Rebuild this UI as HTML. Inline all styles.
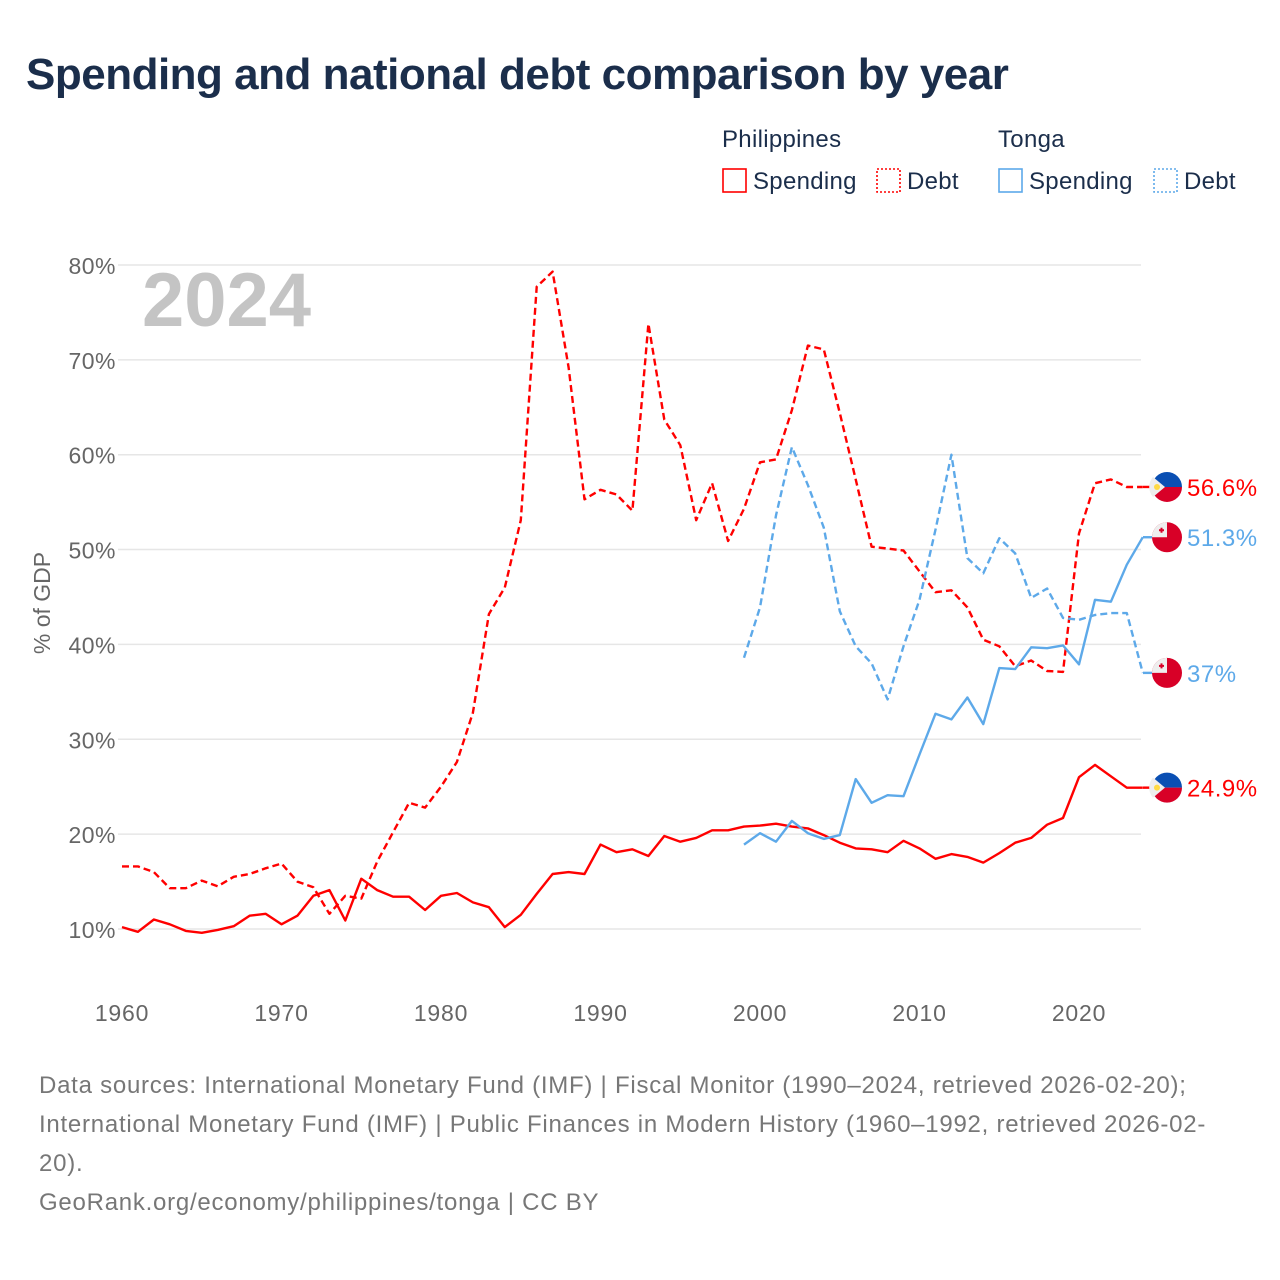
<!DOCTYPE html>
<html><head><meta charset="utf-8">
<style>
body{margin:0;width:1280px;height:1280px;background:#fff;font-family:"Liberation Sans",sans-serif;overflow:hidden}
.t{position:absolute}
</style></head><body>
<div class="t" style="left:26px;top:50px;font-size:44px;font-weight:bold;color:#1b2e4b;letter-spacing:-0.5px">Spending and national debt comparison by year</div>
<svg id="c" width="1280" height="1280" style="position:absolute;left:0;top:0"></svg>
<div class="t" style="left:39px;top:1066px;width:1195px;font-size:24px;line-height:39px;color:#777;letter-spacing:0.75px">Data sources: International Monetary Fund (IMF) | Fiscal Monitor (1990–2024, retrieved 2026-02-20); International Monetary Fund (IMF) | Public Finances in Modern History (1960–1992, retrieved 2026-02-20).<br>GeoRank.org/economy/philippines/tonga | CC BY</div>
<script>
const phSpend=[10.2,9.7,11.0,10.5,9.8,9.6,9.9,10.3,11.4,11.6,10.5,11.4,13.5,14.1,10.9,15.3,14.1,13.4,13.4,12.0,13.5,13.8,12.8,12.3,10.2,11.5,13.7,15.8,16.0,15.8,18.9,18.1,18.4,17.7,19.8,19.2,19.6,20.4,20.4,20.8,20.9,21.1,20.8,20.6,19.9,19.1,18.5,18.4,18.1,19.3,18.5,17.4,17.9,17.6,17.0,18.0,19.1,19.6,21.0,21.7,26.0,27.3,26.1,24.9,24.9];
const phDebt=[16.6,16.6,16.0,14.3,14.3,15.1,14.5,15.5,15.8,16.4,16.9,15.0,14.4,11.6,13.5,13.2,17.1,20.2,23.3,22.8,25.0,27.6,32.8,43.2,46.0,53.1,77.7,79.3,69.2,55.3,56.3,55.8,54.1,73.8,63.7,61.0,53.1,57.0,50.9,54.3,59.2,59.5,64.7,71.5,71.1,64.4,57.4,50.3,50.1,49.9,47.7,45.5,45.7,43.9,40.5,39.8,37.7,38.3,37.2,37.1,51.7,57.0,57.4,56.6,56.6];
const toStartYear=1999;
const toSpend=[18.9,20.1,19.2,21.4,20.1,19.5,19.9,25.8,23.3,24.1,24.0,28.4,32.7,32.1,34.4,31.6,37.5,37.4,39.7,39.6,39.9,37.9,44.7,44.5,48.4,51.3];
const toDebt=[38.6,43.9,53.6,60.8,56.8,52.3,43.5,39.8,38.0,34.2,39.8,44.7,52.1,60.0,49.1,47.5,51.2,49.6,44.9,45.9,42.8,42.6,43.1,43.3,43.3,37.0];
const yTicks=[10,20,30,40,50,60,70,80];
const xTicks=[1960,1970,1980,1990,2000,2010,2020];
const endLabels=["56.6%","51.3%","37%","24.9%"];

const X=y=>122+(y-1960)*957/60;
const Y=v=>929-(v-10)*9.486;
const svg=document.getElementById('c');
const NS='http://www.w3.org/2000/svg';
function mk(t,a,txt){const e=document.createElementNS(NS,t);for(const k in a)e.setAttribute(k,a[k]);if(txt!=null)e.textContent=txt;svg.appendChild(e);return e;}

yTicks.forEach(v=>{
  const l=mk('line',{x1:118,x2:1141,y1:Y(v),y2:Y(v),stroke:'#e6e6e6','stroke-width':1.5});
  
  
  const t=mk('text',{x:116,y:Y(v)+9,'text-anchor':'end','font-size':23,fill:'#666','font-family':'Liberation Sans','letter-spacing':0.5},v+'%');
  
  
});
xTicks.forEach(v=>{
  const t=mk('text',{x:X(v),y:1021,'text-anchor':'middle','font-size':23,fill:'#666','font-family':'Liberation Sans','letter-spacing':0.8},v);
  
  
});
const yt=mk('text',{x:0,y:0,transform:'translate(50,603) rotate(-90)','text-anchor':'middle','font-size':23,fill:'#666','font-family':'Liberation Sans'},'% of GDP');


const yr=mk('text',{x:142,y:326,'font-size':76,'font-weight':'bold',fill:'#c4c4c4','font-family':'Liberation Sans'},'2024');



function line(arr,start,color,dash,name){
  const d=arr.map((v,i)=>(i?'L':'M')+X(start+i).toFixed(1)+','+Y(v).toFixed(1)).join(' ');
  const p=mk('path',{d:d,fill:'none',stroke:color,'stroke-width':2.4,'stroke-dasharray':dash||'','stroke-linejoin':'round'});
  
  
  return p;
}
line(phDebt,1960,'#ff0000','7,4','philippines-debt-line');
line(phSpend,1960,'#ff0000','','philippines-spending-line');
line(toDebt,toStartYear,'#5da9e9','7,4','tonga-debt-line');
line(toSpend,toStartYear,'#5da9e9','','tonga-spending-line');

function flag(cy,ph,name){
  const g=document.createElementNS(NS,'g');svg.appendChild(g);
  
  
  const cx=1167,r=15;
  const add=(t,a)=>{const e=document.createElementNS(NS,t);for(const k in a)e.setAttribute(k,a[k]);g.appendChild(e);};
  if(ph){
    add('path',{d:`M${cx-r},${cy} A${r},${r} 0 0 1 ${cx+r},${cy} Z`,fill:'#0a4fb3'});
    add('path',{d:`M${cx-r},${cy} A${r},${r} 0 0 0 ${cx+r},${cy} Z`,fill:'#d80027'});
    add('path',{d:`M${cx-r+1},${cy-10} L${cx-2},${cy} L${cx-r+1},${cy+10} A${r},${r} 0 0 1 ${cx-r+1},${cy-10} Z`,fill:'#eee'});
    add('circle',{cx:cx-10,cy:cy,r:3,fill:'#ffda44'});
  }else{
    add('circle',{cx:cx,cy:cy,r:r,fill:'#d80027'});
    add('path',{d:`M${cx-r},${cy} A${r},${r} 0 0 1 ${cx},${cy-r} L${cx},${cy} Z`,fill:'#eee'});
    add('rect',{x:cx-8,y:cy-8,width:5,height:2,fill:'#d80027'});
    add('rect',{x:cx-6.5,y:cy-9.5,width:2,height:5,fill:'#d80027'});
  }
}
const ends=[[phDebt[phDebt.length-1],true,'#ff0000'],[toSpend[toSpend.length-1],false,'#5da9e9'],[toDebt[toDebt.length-1],false,'#5da9e9'],[phSpend[phSpend.length-1],true,'#ff0000']];
ends.forEach((e,i)=>{
  const cy=Y(e[0]);
  const dl=mk('line',{x1:1143,x2:1152,y1:cy,y2:cy,stroke:e[2],'stroke-width':2.4});
  
  
  flag(cy,e[1],'end-flag');
  const t=mk('text',{x:1187,y:cy+9,'font-size':24,fill:e[2],'font-family':'Liberation Sans','letter-spacing':0.5},endLabels[i]);
  
  
});

const legTitles=[['Philippines',722],['Tonga',998]];
legTitles.forEach(l=>{
  const t=mk('text',{x:l[1],y:147,'font-size':24,fill:'#1b2e4b','font-family':'Liberation Sans','letter-spacing':0.3},l[0]);
  
  
});
const leg=[[722,'#ff0000','','Spending'],[876,'#ff0000','2,2','Debt'],[998,'#5da9e9','','Spending'],[1153,'#5da9e9','2,2','Debt']];
leg.forEach(l=>{
  const r=mk('rect',{x:l[0]+1,y:169,width:23,height:23,fill:'none',stroke:l[1],'stroke-width':1.6,'stroke-dasharray':l[2]});
  
  
  const t=mk('text',{x:l[0]+31,y:189,'font-size':24,fill:'#1b2e4b','font-family':'Liberation Sans','letter-spacing':0.3},l[3]);
  
  
});
</script>
</body></html>
